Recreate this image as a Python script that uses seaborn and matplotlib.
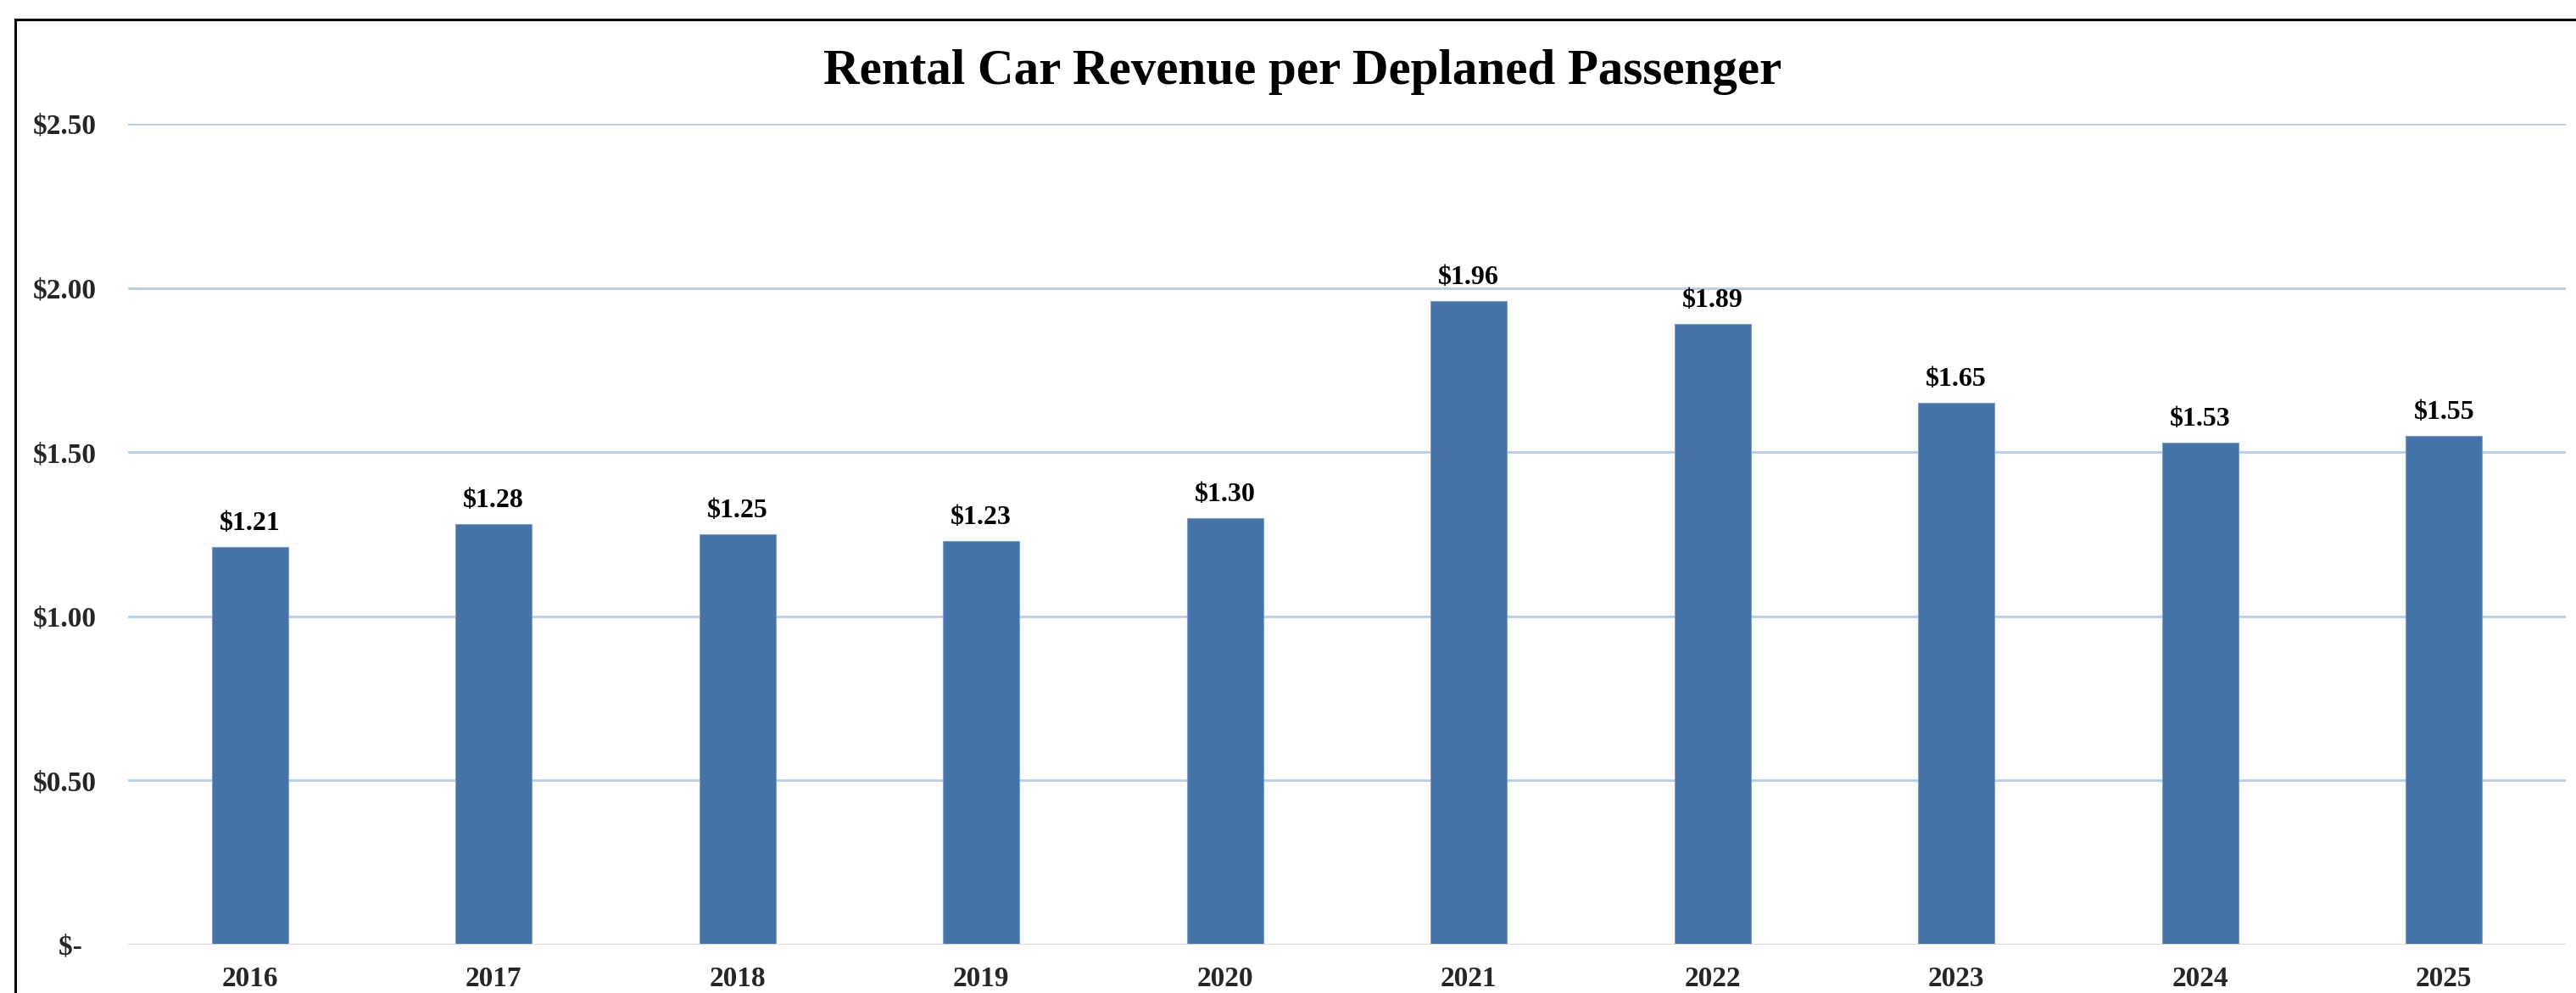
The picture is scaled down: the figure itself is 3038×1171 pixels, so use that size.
import pandas as pd
import matplotlib.pyplot as plt
import matplotlib.ticker as mticker
from matplotlib.patches import Rectangle
import seaborn as sns

# Chart data
years = ["2016", "2017", "2018", "2019", "2020", "2021", "2022", "2023", "2024", "2025"]
revenue = [1.21, 1.28, 1.25, 1.23, 1.30, 1.96, 1.89, 1.65, 1.53, 1.55]
y_ticks = [0, 0.5, 1.0, 1.5, 2.0, 2.5]

data = pd.DataFrame({"Year": years, "Revenue": revenue})

sns.set_style("white")
plt.rcParams['font.family'] = ['Liberation Serif', 'DejaVu Serif']
plt.rcParams['font.weight'] = 'bold'

W, H = 3038, 1171
fig = plt.figure(figsize=(W / 100, H / 100), dpi=100)
ax = fig.add_axes([151 / W, 57 / H, (3026 - 151) / W, (1114 - 146) / H])

bar_color = "#4572a7"
sns.barplot(data=data, x="Year", y="Revenue", color=bar_color, width=0.313,
            edgecolor="#7f9fcb", linewidth=0.8, saturation=1, ax=ax, zorder=3)

ax.set_ylim(0, 2.5)
ax.set_xlim(-0.5, len(years) - 0.5)
ax.set_yticks(y_ticks)
# accounting style: zero shown as "$-" with a little right padding
ax.yaxis.set_major_formatter(mticker.FuncFormatter(
    lambda v, p: "$-  " if v == 0 else f"${v:.2f}"))

# gridlines
for t in y_ticks[1:]:
    ax.axhline(t, color="#b9cce6", linewidth=2, zorder=1)
ax.axhline(0, color="#d9d9d9", linewidth=2.2, zorder=4)

for s in ax.spines.values():
    s.set_visible(False)

ax.tick_params(axis="y", length=0, pad=27, labelsize=24)
ax.tick_params(axis="x", length=0, pad=18, labelsize=24)
for lbl in ax.get_yticklabels() + ax.get_xticklabels():
    lbl.set_fontweight("bold")
ax.set_xlabel("")
ax.set_ylabel("")

# value labels
for i, v in enumerate(revenue):
    ax.annotate(f"${v:.2f}", (i, v), xytext=(0, 13), textcoords="offset pixels",
                ha="center", va="bottom", fontsize=23, fontweight="bold", color="black")

fig.text(1536 / W, 1 - 99 / H, "Rental Car Revenue per Deplaned Passenger",
         ha="center", va="baseline", fontsize=42.5, fontweight="bold", color="black")

# outer frame (cropped on the right and bottom)
fig.add_artist(Rectangle((17.5 / W, -0.1), 1.2, 1 - 23.5 / H + 0.1,
                         transform=fig.transFigure, fill=False,
                         edgecolor="black", linewidth=2.2))

fig.savefig("out.png", dpi=100, facecolor="white")
